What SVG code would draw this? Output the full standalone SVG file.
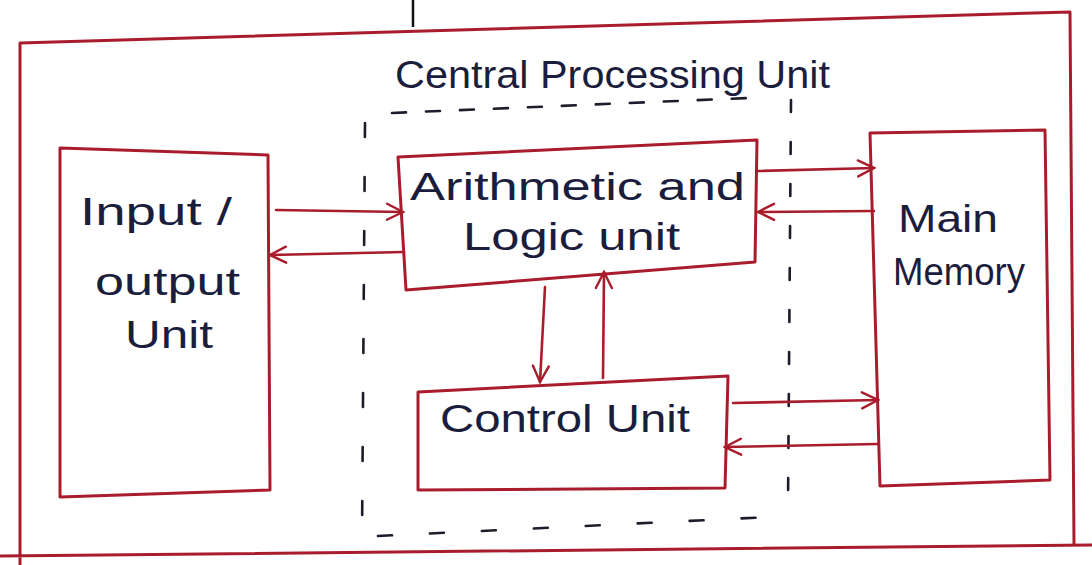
<svg xmlns="http://www.w3.org/2000/svg" width="1092" height="565" viewBox="0 0 1092 565">
  <style>
    .box { fill: none; stroke: #a81c2c; stroke-width: 3; stroke-linejoin: round; stroke-linecap: round; }
    .wire { fill: none; stroke: #a81c2c; stroke-width: 2.6; stroke-linecap: round; }
    .dash { fill: none; stroke: #1c1c2c; stroke-width: 2.6; stroke-linecap: round; }
    .ink { fill: #1b1d3d; font-family: "Liberation Sans", "DejaVu Sans", sans-serif; font-size: 38px; }
  </style>
  <defs>
    <marker id="head" viewBox="0 0 20 20" refX="18" refY="10" markerWidth="20" markerHeight="20" markerUnits="userSpaceOnUse" orient="auto">
      <path d="M2 2 L18 10 L2 18" fill="none" stroke="#a81c2c" stroke-width="2.4" stroke-linecap="round"/>
    </marker>
  </defs>
  <rect width="1092" height="565" fill="#ffffff"/>

  <!-- heading fragment at the top edge -->
  <line x1="413" y1="0" x2="413" y2="27" stroke="#111" stroke-width="2.5"/>

  <!-- outer frame -->
  <path class="box" d="M20 565 L20 43 L1070 12 L1074 545 M0 556 L1092 545"/>

  <!-- CPU boundary (dashed) -->
  <g id="cpu">
    <path class="dash" stroke-dasharray="14 20" d="M392 113 L748 98"/>
    <path class="dash" stroke-dasharray="14 40" d="M365 123 L362 540"/>
    <path class="dash" stroke-dasharray="12 30" d="M791 100 L788 505"/>
    <path class="dash" stroke-dasharray="14 38" d="M378 536 L770 517"/>
    <text class="ink" x="395" y="88" textLength="435" lengthAdjust="spacingAndGlyphs">Central Processing Unit</text>
  </g>

  <g id="io">
    <path class="box" d="M60 148 L268 155 L270 490 L60 497 Z"/>
    <text class="ink" x="80" y="225" textLength="152" lengthAdjust="spacingAndGlyphs">Input /</text>
    <text class="ink" x="95" y="295" textLength="145" lengthAdjust="spacingAndGlyphs">output</text>
    <text class="ink" x="125" y="348" textLength="88" lengthAdjust="spacingAndGlyphs">Unit</text>
  </g>

  <g id="alu">
    <path class="box" d="M398 157 L757 140 L755 262 L406 290 Z"/>
    <text class="ink" x="410" y="200" textLength="335" lengthAdjust="spacingAndGlyphs">Arithmetic and</text>
    <text class="ink" x="463" y="250" textLength="217" lengthAdjust="spacingAndGlyphs">Logic unit</text>
  </g>

  <g id="cu">
    <path class="box" d="M418 392 L728 376 L725 488 L418 490 Z"/>
    <text class="ink" x="440" y="432" textLength="250" lengthAdjust="spacingAndGlyphs">Control Unit</text>
  </g>

  <g id="memory">
    <path class="box" d="M870 133 L1045 130 L1050 480 L880 486 Z"/>
    <text class="ink" x="898" y="232" textLength="100" lengthAdjust="spacingAndGlyphs">Main</text>
    <text class="ink" x="893" y="285" textLength="132" lengthAdjust="spacingAndGlyphs">Memory</text>
  </g>

  <g id="connectors">
    <path class="wire" marker-end="url(#head)" d="M276 210 L403 212"/>
    <path class="wire" marker-end="url(#head)" d="M404 252 L270 255"/>
    <path class="wire" marker-end="url(#head)" d="M758 171 L874 168"/>
    <path class="wire" marker-end="url(#head)" d="M874 211 L758 212"/>
    <path class="wire" marker-end="url(#head)" d="M545 287 L540 382"/>
    <path class="wire" marker-end="url(#head)" d="M603 378 L604 272"/>
    <path class="wire" marker-end="url(#head)" d="M733 403 L878 400"/>
    <path class="wire" marker-end="url(#head)" d="M878 444 L725 447"/>
  </g>
</svg>
